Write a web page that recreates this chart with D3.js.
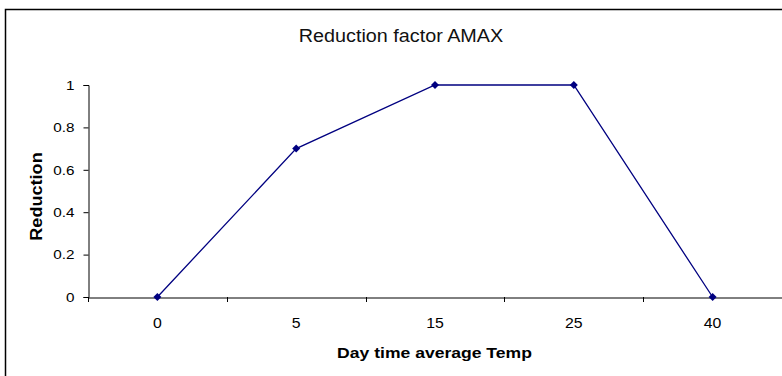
<!DOCTYPE html>
<html><head><meta charset="utf-8">
<script src="https://cdn.jsdelivr.net/npm/d3@7"></script>
<style>body{margin:0;background:#fff;overflow:hidden}svg{display:block}</style>
</head><body>
<script>
const categories = ["0", "5", "15", "25", "40"];
const reduction = [0, 0.7, 1, 1, 0];
const yTicks = [0, 0.2, 0.4, 0.6, 0.8, 1];
const title = "Reduction factor AMAX";
const xTitle = "Day time average Temp";
const yTitle = "Reduction";

const W = 782, H = 376;
const svg = d3.select("body").append("svg").attr("width", W).attr("height", H);
const font = "Liberation Sans, Arial, sans-serif";
const STRETCH = 1.13;
function stretch(sel, factor) {
  sel.each(function () {
    const n = this.getComputedTextLength();
    d3.select(this).attr("textLength", n * factor).attr("lengthAdjust", "spacingAndGlyphs");
  });
}

// chart frame
svg.append("rect").attr("x", 5.5).attr("y", 9.5).attr("width", 820).attr("height", 420)
  .attr("fill", "#fff").attr("stroke", "#000").attr("stroke-width", 1.5);

const x = d3.scaleBand().domain(categories).range([88, 782]);
const y = d3.scaleLinear().domain([0, 1]).range([297, 85]);

svg.append("text").attr("x", 401).attr("y", 41.5).attr("text-anchor", "middle")
  .attr("font-family", font).attr("font-size", 17.5).attr("fill", "#111").text(title)
  .call(stretch, 1.13);

// y axis
const ya = svg.append("g").attr("transform", "translate(88.5,0)")
  .call(d3.axisLeft(y).tickValues(yTicks).tickFormat(d3.format("~g")).tickSize(5).tickPadding(9));
ya.select(".domain").attr("stroke", "#000");
ya.selectAll(".tick line").attr("stroke", "#000");
ya.selectAll("text").attr("font-family", font).attr("font-size", 13.5).attr("fill", "#000")
  .call(stretch, STRETCH);

// x axis
const xa = svg.append("g").attr("transform", "translate(0,297.5)")
  .call(d3.axisBottom(x).tickSize(0).tickPadding(21));
xa.select(".domain").attr("stroke", "#000");
xa.selectAll("text").attr("font-family", font).attr("font-size", 14).attr("fill", "#000")
  .call(stretch, STRETCH);
// boundary ticks between categories
const bounds = categories.map(c => x(c)).concat([x.range()[1]]);
svg.append("g").selectAll("line").data(bounds).join("line")
  .attr("x1", d => Math.round(d) + 0.5).attr("x2", d => Math.round(d) + 0.5)
  .attr("y1", 297).attr("y2", 302).attr("stroke", "#000");

// axis titles
svg.append("text").attr("x", 434.5).attr("y", 358).attr("text-anchor", "middle")
  .attr("font-family", font).attr("font-size", 15).attr("font-weight", "bold").text(xTitle)
  .call(stretch, 1.17);
svg.append("text").attr("transform", "translate(42,196.5) rotate(-90)").attr("text-anchor", "middle")
  .attr("font-family", font).attr("font-size", 16).attr("font-weight", "bold").text(yTitle)
  .call(stretch, 1.13);

// line
const cx = c => x(c) + x.bandwidth() / 2;
const pts = categories.map((c, i) => [cx(c), y(reduction[i])]);
svg.append("path").attr("d", d3.line()(pts)).attr("fill", "none")
  .attr("stroke", "#000080").attr("stroke-width", 1.3);
svg.append("g").selectAll("path").data(pts).join("path")
  .attr("transform", d => `translate(${d[0]},${d[1]})`)
  .attr("d", "M0,-4L4,0L0,4L-4,0Z").attr("fill", "#000080");
</script>
</body></html>
